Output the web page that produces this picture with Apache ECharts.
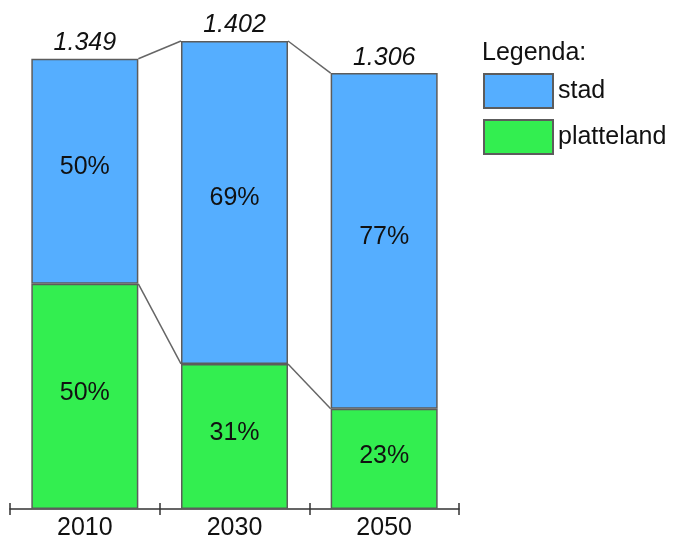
<!DOCTYPE html>
<html><head><meta charset="utf-8">
<script src="https://cdn.jsdelivr.net/npm/echarts@6/dist/echarts.min.js"></script>
<style>html,body{margin:0;padding:0;background:#fff}#c{width:677px;height:543px}</style>
</head><body><div id="c"></div>
<script>
const years = ['2010', '2030', '2050'];
const totals = [1.349, 1.402, 1.306];
const stadPct = [50, 69, 77];
const plattelandPct = [50, 31, 23];
const totalLabels = ['1.349', '1.402', '1.306'];

const platteland = totals.map((t, i) => t * plattelandPct[i] / 100);
const stad = totals.map((t, i) => t * stadPct[i] / 100);

const BAR_FRAC = 0.715;
const FS = 25;
const font = 'Liberation Sans, Arial, sans-serif';
const chart = echarts.init(document.getElementById('c'), null, {renderer: 'canvas'});

function connector(values) {
  return function (params, api) {
    const i = api.value(0);
    if (i >= values.length - 1) return null;
    const band = api.size([1, 0])[0];
    const half = band * BAR_FRAC / 2;
    const p1 = api.coord([i, values[i]]);
    const p2 = api.coord([i + 1, values[i + 1]]);
    return {
      type: 'line',
      shape: {x1: p1[0] + half, y1: p1[1], x2: p2[0] - half, y2: p2[1]},
      style: {stroke: '#666', lineWidth: 1.5}
    };
  };
}

chart.setOption({
  animation: false,
  title: {text: 'Legenda:', left: 482, top: 41, padding: 0,
    textStyle: {fontFamily: font, fontSize: FS, fontWeight: 'normal', color: '#111'}},
  legend: {
    orient: 'vertical', left: 483, top: 73, padding: 0, itemWidth: 69, itemHeight: 34, itemGap: 10,
    icon: 'rect', data: ['stad', 'platteland'],
    textStyle: {fontFamily: font, fontSize: FS, color: '#111'}
  },
  grid: {left: 10, right: 218, top: 40, bottom: 34, containLabel: false},
  xAxis: [
    {type: 'category', data: years, boundaryGap: true,
     axisLine: {lineStyle: {color: '#333', width: 1.5}},
     axisTick: {show: true, inside: false, length: 6, lineStyle: {color: '#333', width: 1.5}},
     axisLabel: {fontFamily: font, fontSize: FS, color: '#111', margin: 7}},
    {type: 'category', data: years, boundaryGap: true, position: 'bottom',
     axisLine: {show: false},
     axisTick: {show: true, inside: true, length: 6, lineStyle: {color: '#333', width: 1.5}},
     axisLabel: {show: false}}
  ],
  yAxis: {type: 'value', min: 0, max: 1.405, show: false, splitLine: {show: false}},
  series: [
    {name: 'platteland', type: 'bar', stack: 'a', data: platteland, barWidth: (BAR_FRAC * 100) + '%',
     itemStyle: {color: '#33EE50', borderColor: '#5c5c5c', borderWidth: 1.5},
     label: {show: true, position: 'inside', offset: [0, -3], fontFamily: font, fontSize: FS, color: '#111',
       formatter: p => plattelandPct[p.dataIndex] + '%'}},
    {name: 'stad', type: 'bar', stack: 'a', data: stad, barWidth: (BAR_FRAC * 100) + '%',
     itemStyle: {color: '#55AEFF', borderColor: '#5c5c5c', borderWidth: 1.5},
     label: {show: true, position: 'inside', offset: [0, -4], fontFamily: font, fontSize: FS, color: '#111',
       formatter: p => stadPct[p.dataIndex] + '%'}},
    {name: 'totals', type: 'bar', stack: 'a', data: totals.map(() => 0), barWidth: (BAR_FRAC * 100) + '%',
     itemStyle: {color: 'transparent'}, silent: true,
     label: {show: true, position: 'top', distance: 3, fontFamily: font, fontSize: FS, fontStyle: 'italic', color: '#111',
       formatter: p => totalLabels[p.dataIndex]}},
    {name: 'c1', type: 'custom', renderItem: connector(totals), data: [0, 1], z: 1, silent: true},
    {name: 'c2', type: 'custom', renderItem: connector(platteland), data: [0, 1], z: 1, silent: true}
  ]
});
</script></body></html>
